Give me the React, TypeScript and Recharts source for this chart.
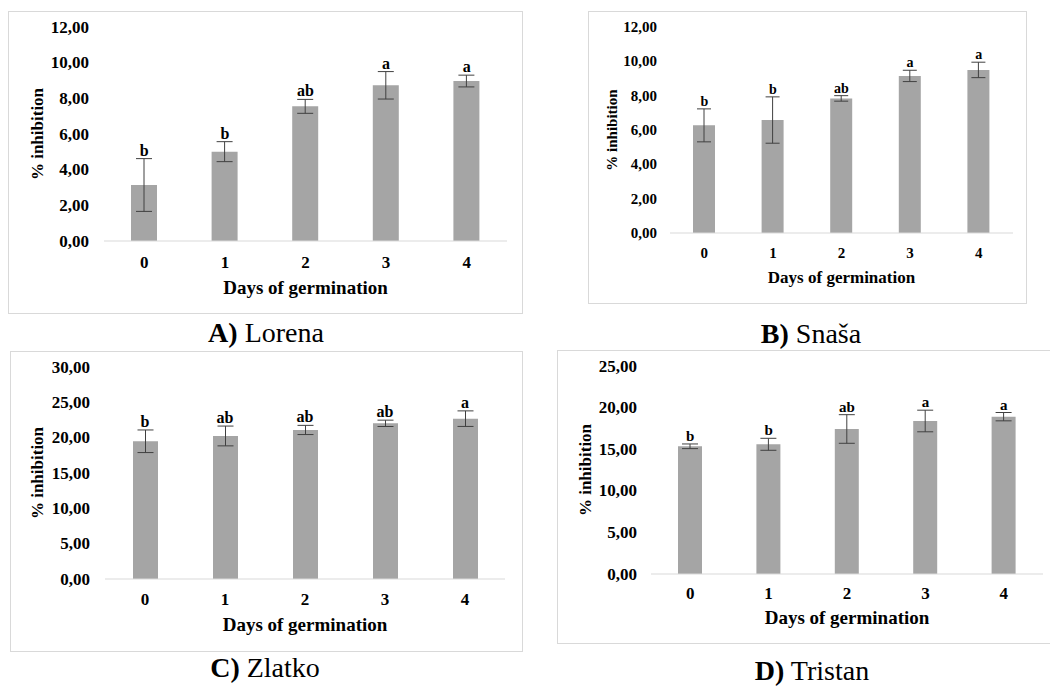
import {
  ComposedChart, Bar, Line, XAxis, YAxis, ErrorBar, LabelList,
} from 'recharts';

// Days of germination shared by all four cultivars
const days = ['0', '1', '2', '3', '4'];

// Lorena
const lorenaMean = [3.14, 5.01, 7.55, 8.73, 8.97];
const lorenaErr = [1.48, 0.56, 0.39, 0.77, 0.33];
const lorenaLetters = ['b', 'b', 'ab', 'a', 'a'];
const lorenaTicks = [0, 2, 4, 6, 8, 10, 12];

// Snaša
const snasaMean = [6.27, 6.58, 7.84, 9.15, 9.5];
const snasaErr = [0.96, 1.35, 0.16, 0.33, 0.45];
const snasaLetters = ['b', 'b', 'ab', 'a', 'a'];
const snasaTicks = [0, 2, 4, 6, 8, 10, 12];

// Zlatko
const zlatkoMean = [19.49, 20.24, 21.09, 22.03, 22.69];
const zlatkoErr = [1.6, 1.4, 0.65, 0.45, 1.1];
const zlatkoLetters = ['b', 'ab', 'ab', 'ab', 'a'];
const zlatkoTicks = [0, 5, 10, 15, 20, 25, 30];

// Tristan
const tristanMean = [15.35, 15.59, 17.43, 18.39, 18.91];
const tristanErr = [0.28, 0.72, 1.72, 1.3, 0.5];
const tristanLetters = ['b', 'b', 'ab', 'a', 'a'];
const tristanTicks = [0, 5, 10, 15, 20, 25];

const FONT = 'Liberation Serif, DejaVu Serif, serif';
const BAR = '#a5a5a5';
const AXIS = '#d9d9d9';
const WHISKER = '#404040';

interface PanelLayout {
  left: number; top: number; width: number; height: number;
  plotLeft: number; plotTop: number; plotRight: number; plotBottom: number;
  tickFont: number; tickGap: number; xTickDy: number;
  titleFont: number; titleDy: number; yTitleX: number;
  letterFont: number; barSize: number; cap: number;
}

interface PanelProps {
  layout: PanelLayout;
  mean: number[];
  err: number[];
  letters: string[];
  ticks: number[];
}

const fmt = (v: number) => v.toFixed(2).replace('.', ',');

const boldText = (size: number) => ({
  fontFamily: FONT, fontWeight: 700, fontSize: size, fill: '#000',
});

function Panel({ layout: l, mean, err, letters, ticks }: PanelProps) {
  const rows = days.map((d, i) => ({
    day: d,
    mean: mean[i],
    err: err[i],
    top: mean[i] + err[i],
    letter: letters[i],
  }));
  const yMax = ticks[ticks.length - 1];

  return (
    <div style={{ position: 'absolute', left: l.left, top: l.top }}>
      <ComposedChart
        width={l.width}
        height={l.height}
        data={rows}
        margin={{ top: l.plotTop, right: l.width - l.plotRight, bottom: 0, left: 0 }}
      >
        <XAxis
          dataKey="day"
          height={l.height - l.plotBottom}
          axisLine={{ stroke: AXIS, strokeWidth: 1 }}
          tickLine={false}
          interval={0}
          tick={(p: any) => (
            <text
              x={p.x} y={l.plotBottom + l.xTickDy}
              textAnchor="middle" dominantBaseline="central"
              style={boldText(l.tickFont)}
            >
              {p.payload.value}
            </text>
          )}
        />
        <YAxis
          width={l.plotLeft}
          domain={[0, yMax]}
          ticks={ticks}
          interval={0}
          axisLine={false}
          tickLine={false}
          tick={(p: any) => (
            <text
              x={l.plotLeft - l.tickGap} y={p.y}
              textAnchor="end" dominantBaseline="central"
              style={boldText(l.tickFont)}
            >
              {fmt(p.payload.value)}
            </text>
          )}
        />
        <Bar dataKey="mean" fill={BAR} barSize={l.barSize} isAnimationActive={false}>
          <ErrorBar
            dataKey="err" width={l.cap} stroke={WHISKER} strokeWidth={1}
            direction="y" isAnimationActive={false}
          />
        </Bar>
        {/* invisible line at the whisker tops carries the significance letters */}
        <Line
          dataKey="top" stroke="none" dot={false} activeDot={false}
          isAnimationActive={false}
        >
          <LabelList
            dataKey="letter" position="top" offset={3}
            style={boldText(l.letterFont)}
          />
        </Line>
      </ComposedChart>
    </div>
  );
}

const layoutA: PanelLayout = {
  left: 8, top: 11, width: 515, height: 303,
  plotLeft: 96, plotTop: 16, plotRight: 499, plotBottom: 230,
  tickFont: 17, tickGap: 15, xTickDy: 21, titleFont: 19, titleDy: 46, yTitleX: 29,
  letterFont: 16, barSize: 26, cap: 8,
};
const layoutB: PanelLayout = {
  left: 588, top: 11, width: 439, height: 293,
  plotLeft: 82, plotTop: 16, plotRight: 425, plotBottom: 222,
  tickFont: 15, tickGap: 13, xTickDy: 20, titleFont: 17, titleDy: 44, yTitleX: 24,
  letterFont: 14, barSize: 22, cap: 7,
};
const layoutC: PanelLayout = {
  left: 10, top: 351, width: 513, height: 301,
  plotLeft: 95, plotTop: 16, plotRight: 495, plotBottom: 228,
  tickFont: 17, tickGap: 15, xTickDy: 20, titleFont: 19, titleDy: 45, yTitleX: 27,
  letterFont: 16, barSize: 25, cap: 8,
};
const layoutD: PanelLayout = {
  left: 557, top: 350, width: 512, height: 294,
  plotLeft: 94, plotTop: 16, plotRight: 486, plotBottom: 224,
  tickFont: 17, tickGap: 14, xTickDy: 19, titleFont: 19, titleDy: 43, yTitleX: 28,
  letterFont: 15, barSize: 24, cap: 8,
};

const captions = [
  { tag: 'A)', name: 'Lorena', x: 266, y: 342 },
  { tag: 'B)', name: 'Snaša', x: 811, y: 343 },
  { tag: 'C)', name: 'Zlatko', x: 265, y: 677 },
  { tag: 'D)', name: 'Tristan', x: 812, y: 680 },
];

function Frame({ l }: { l: PanelLayout }) {
  const midY = (l.plotTop + l.plotBottom) / 2;
  return (
    <g>
      <rect
        x={l.left + 0.5} y={l.top + 0.5} width={l.width - 1} height={l.height - 1}
        fill="none" stroke={AXIS} strokeWidth={1}
      />
      <text
        x={l.left + (l.plotLeft + l.plotRight) / 2} y={l.top + l.plotBottom + l.titleDy}
        textAnchor="middle" dominantBaseline="central"
        style={boldText(l.titleFont)}
      >
        Days of germination
      </text>
      <text
        x={l.left + l.yTitleX} y={l.top + midY}
        transform={`rotate(-90 ${l.left + l.yTitleX} ${l.top + midY})`}
        textAnchor="middle" dominantBaseline="central"
        style={boldText(l.tickFont)}
      >
        % inhibition
      </text>
    </g>
  );
}

export default function App() {
  const layouts = [layoutA, layoutB, layoutC, layoutD];
  return (
    <div
      style={{
        position: 'absolute', left: 0, top: 0, width: 1050, height: 686,
        overflow: 'hidden', background: '#fff', fontFamily: FONT,
      }}
    >
      <svg width={1050} height={686} style={{ position: 'absolute', left: 0, top: 0 }}>
        {layouts.map((l, i) => <Frame key={i} l={l} />)}
        {captions.map((c) => (
          <text
            key={c.tag} x={c.x} y={c.y} textAnchor="middle"
            style={{ fontFamily: FONT, fontSize: 28, fill: '#000' }}
          >
            <tspan style={{ fontWeight: 700 }}>{c.tag}</tspan> {c.name}
          </text>
        ))}
      </svg>
      <Panel layout={layoutA} mean={lorenaMean} err={lorenaErr} letters={lorenaLetters} ticks={lorenaTicks} />
      <Panel layout={layoutB} mean={snasaMean} err={snasaErr} letters={snasaLetters} ticks={snasaTicks} />
      <Panel layout={layoutC} mean={zlatkoMean} err={zlatkoErr} letters={zlatkoLetters} ticks={zlatkoTicks} />
      <Panel layout={layoutD} mean={tristanMean} err={tristanErr} letters={tristanLetters} ticks={tristanTicks} />
    </div>
  );
}
